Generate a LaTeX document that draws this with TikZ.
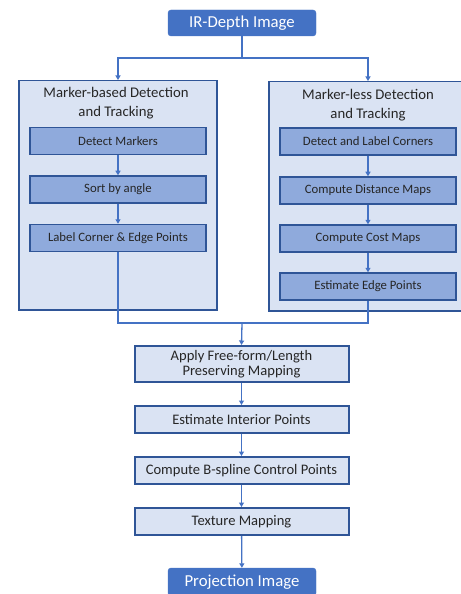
\documentclass[tikz,border=0pt]{standalone}
\usepackage{fontspec}
\setmainfont{Carlito}
\usetikzlibrary{arrows.meta,positioning,calc}
\definecolor{darkblue}{HTML}{4472C4}
\definecolor{edgeblue}{HTML}{2F5597}
\definecolor{paleblue}{HTML}{DAE3F3}
\definecolor{midblue}{HTML}{8FAADC}
\definecolor{txt}{HTML}{262626}
\tikzset{
  io/.style={draw=darkblue, fill=darkblue, rounded corners=3bp, text=white, font=\fontsize{16.8}{19}\selectfont, minimum width=148bp, minimum height=26bp, inner sep=2bp},
  group/.style={draw=edgeblue, fill=paleblue, line width=1.5bp, minimum width=198bp, minimum height=229bp, anchor=north, inner sep=0pt},
  gtitle/.style={align=center, text=txt, font=\fontsize{14.8}{19}\selectfont},
  sub/.style={draw=edgeblue, fill=midblue, line width=1.5bp, text=txt, font=\fontsize{12.8}{15}\selectfont, minimum width=176bp, minimum height=27bp, inner sep=2bp},
  stage/.style={draw=edgeblue, fill=paleblue, line width=2bp, text=txt, align=center, font=\fontsize{14.6}{16.5}\selectfont, minimum width=214bp, minimum height=27bp, inner sep=2bp},
  link/.style={draw=darkblue, line width=1.3bp},
  arr/.style={link, -{Triangle[length=4.5bp, width=5bp]}},
}
\begin{document}
\begin{tikzpicture}[x=1bp,y=-1bp]
\useasboundingbox (0,0) rectangle (461,594);
\begin{scope}
\clip (0,0) rectangle (461,594);
% input
\node[io] (ir) at (242,23) {IR-Depth Image};
% the two tracking branches
\node[group] (mb) at (118,80) {};
\node[group] (ml) at (368,81) {};
\node[gtitle] (mbt) at (116,103.5) {Marker-based Detection\\and Tracking};
\node[gtitle] (mlt) at (368,105.5) {Marker-less Detection\\and Tracking};
\node[sub] (dm) at (118,141) {Detect Markers};
\node[sub] (sa) at (118,189.5) {Sort by angle};
\node[sub] (lc) at (118,238) {Label Corner \& Edge Points};
\node[sub] (dc) at (368,141.5) {Detect and Label Corners};
\node[sub] (cd) at (368,190.5) {Compute Distance Maps};
\node[sub] (cc) at (368,238.5) {Compute Cost Maps};
\node[sub] (ee) at (368,286.5) {Estimate Edge Points};
% common pipeline
\node[stage, minimum height=36bp] (ap) at (241.5,364) {Apply Free-form/Length\\[-1pt]Preserving Mapping};
\node[stage] (ei) at (241.5,419.5) {Estimate Interior Points};
\node[stage] (bs) at (241.5,470.5) {Compute B-spline Control Points};
\node[stage] (tm) at (241.5,521.5) {Texture Mapping};
\node[io, minimum height=28bp] (pi) at (242,582) {Projection Image};
\coordinate (split) at (242,58);
\coordinate (join) at (242,323);
\draw[link] (ir.south) -- (split);
\draw[arr] (split) -| (mb.north);
\draw[arr] (split) -| (ml.north);
\draw[arr] (dm) -- (sa);
\draw[arr] (sa) -- (lc);
\draw[arr] (dc) -- (cd);
\draw[arr] (cd) -- (cc);
\draw[arr] (cc) -- (ee);
\draw[link] (lc.south) |- (join);
\draw[link] (ee.south) |- (join);
\draw[arr] (join) -- (ap.north);
\draw[arr] (ap) -- (ei);
\draw[arr] (ei) -- (bs);
\draw[arr] (bs) -- (tm);
\draw[arr] (tm) -- (pi);
\end{scope}
\end{tikzpicture}
\end{document}
